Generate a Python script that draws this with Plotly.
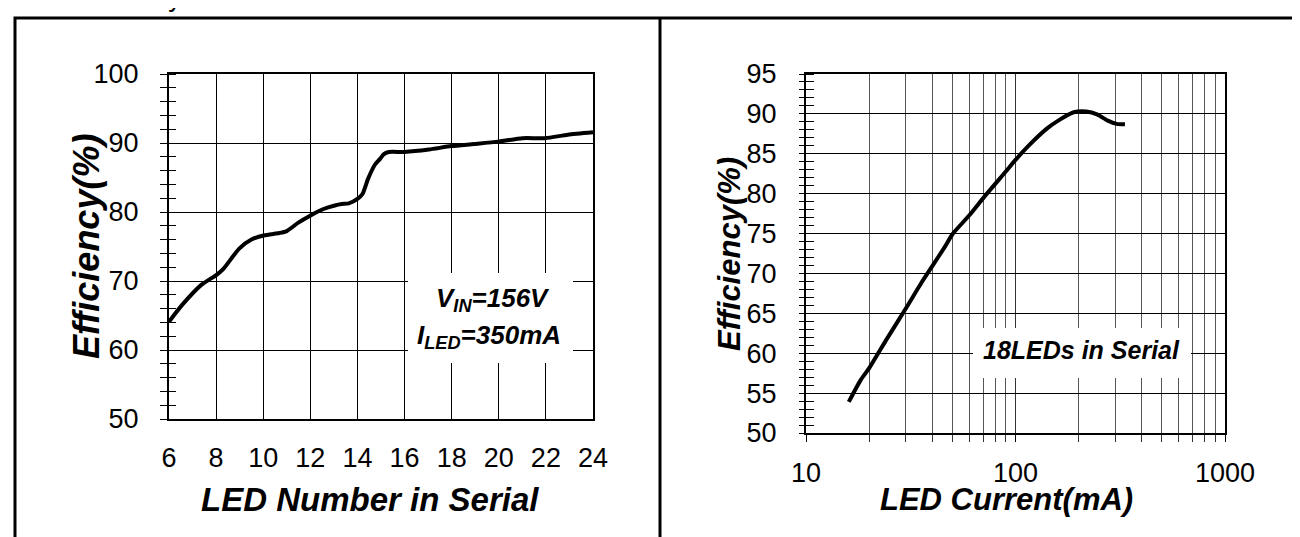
import plotly.graph_objects as go

# ---------------- data ----------------
led_number = [6.0, 6.55, 7.36, 8.02, 8.32, 8.98, 9.5, 10.02, 10.68, 10.98, 11.49, 12.01,
              12.53, 13.04, 13.34, 13.63, 14.0, 14.22, 14.45, 14.74, 14.96, 15.11, 15.33,
              16.0, 17.03, 17.99, 18.95, 19.98, 21.01, 21.97, 22.93, 24.0]
eff_vs_number = [64.1, 66.5, 69.4, 70.9, 71.8, 74.7, 76.0, 76.6, 76.95, 77.2, 78.45, 79.5,
                 80.4, 80.95, 81.15, 81.25, 81.9, 82.65, 84.8, 86.85, 87.7, 88.35, 88.7,
                 88.7, 89.05, 89.55, 89.85, 90.2, 90.7, 90.7, 91.2, 91.55]

led_current = [16.0, 18.2, 20.1, 24.0, 30.1, 35.5, 40.5, 45.9, 50.3, 60.5, 70.9, 89.7,
               99.8, 115.9, 141.1, 162.0, 189.7, 217.8, 245.0, 275.7, 304.0, 333.0]
eff_vs_current = [53.9, 56.6, 58.2, 61.55, 65.7, 68.8, 71.1, 73.3, 75.0, 77.35, 79.6, 82.75,
                  84.2, 86.05, 88.15, 89.25, 90.2, 90.3, 89.95, 89.15, 88.75, 88.7]

left_xticks = [6, 8, 10, 12, 14, 16, 18, 20, 22, 24]
left_yticks = [50, 60, 70, 80, 90, 100]
right_xticks = [10, 100, 1000]
right_yticks = [50, 55, 60, 65, 70, 75, 80, 85, 90, 95]

# ---------------- layout helpers ----------------
W, H = 1300, 537
FONT = "Liberation Sans"


def fx(p):
    return p / W


def fy(p):
    return 1 - p / H


fig = go.Figure()

fig.add_trace(go.Scatter(x=led_number, y=eff_vs_number, mode="lines",
                         line=dict(color="black", width=4, shape="spline", smoothing=0.6),
                         xaxis="x", yaxis="y", showlegend=False, hoverinfo="skip"))
fig.add_trace(go.Scatter(x=led_current, y=eff_vs_current, mode="lines",
                         line=dict(color="black", width=4, shape="spline", smoothing=0.6),
                         xaxis="x2", yaxis="y2", showlegend=False, hoverinfo="skip"))
# dummy traces so overlay axes render
fig.add_trace(go.Scatter(x=[None], y=[None], xaxis="x", yaxis="y3", showlegend=False))
fig.add_trace(go.Scatter(x=[None], y=[None], xaxis="x2", yaxis="y4", showlegend=False))
# cut-off glyph of a heading above the frame (only its tail is visible)
fig.add_trace(go.Scatter(x=[167], y=[-9], mode="text", text=["y"],
                         textfont=dict(family=FONT, size=27, color="black"),
                         textposition="middle center", cliponaxis=True,
                         xaxis="x5", yaxis="y5", showlegend=False, hoverinfo="skip"))

tickfont = dict(family=FONT, size=27, color="black")
hidden = dict(visible=False, showgrid=False, zeroline=False, automargin=False)

fig.update_layout(
    width=W, height=H,
    margin=dict(l=0, r=0, t=0, b=0, autoexpand=False),
    paper_bgcolor="white", plot_bgcolor="white",
    showlegend=False,
    # ---- left chart ----
    xaxis=dict(domain=[fx(161), fx(585)], range=[6, 24], tickvals=left_xticks,
               showgrid=True, gridcolor="black", gridwidth=1,
               showline=True, linecolor="black", linewidth=2, mirror=True,
               ticks="", tickfont=tickfont, ticklabelstandoff=14, zeroline=False,
               anchor="y", automargin=False),
    yaxis=dict(domain=[fy(411), fy(66)], range=[50, 100], tickvals=left_yticks,
               showgrid=True, gridcolor="black", gridwidth=1,
               showline=True, linecolor="black", linewidth=2, mirror=True,
               ticks="outside", ticklen=7, tickwidth=1, tickcolor="black",
               minor=dict(dtick=2, ticks="outside", ticklen=7, tickwidth=1,
                          tickcolor="black", showgrid=False),
               tickfont=tickfont, ticklabelstandoff=16, zeroline=False, anchor="x",
               automargin=False),
    yaxis3=dict(domain=[fy(411), fy(66)], range=[50, 100], overlaying="y", anchor="x",
                showgrid=False, showticklabels=False, zeroline=False, automargin=False,
                tickvals=[], minor=dict(dtick=2, ticks="inside", ticklen=7, tickwidth=1,
                                        tickcolor="black")),
    # ---- right chart ----
    xaxis2=dict(domain=[fx(798), fx(1217)], type="log", range=[1, 3],
                tickvals=right_xticks, ticktext=[str(v) for v in right_xticks],
                showgrid=True, gridcolor="#333333", gridwidth=1,
                showline=True, linecolor="black", linewidth=2, mirror=True,
                ticks="outside", ticklen=7, tickwidth=1, tickcolor="black",
                minor=dict(dtick="D1", ticks="outside", ticklen=7, tickwidth=1,
                           tickcolor="#333333", showgrid=True, gridcolor="#555555",
                           gridwidth=1),
                tickfont=tickfont, ticklabelstandoff=8, zeroline=False, anchor="y2",
                automargin=False),
    yaxis2=dict(domain=[fy(425), fy(66)], range=[50, 95], tickvals=right_yticks,
                showgrid=True, gridcolor="black", gridwidth=1,
                showline=True, linecolor="black", linewidth=2, mirror=True,
                ticks="outside", ticklen=5, tickwidth=1, tickcolor="black",
                minor=dict(dtick=1, ticks="outside", ticklen=5, tickwidth=1,
                           tickcolor="black", showgrid=False),
                tickfont=tickfont, ticklabelstandoff=17, zeroline=False, anchor="x2",
                automargin=False),
    yaxis4=dict(domain=[fy(425), fy(66)], range=[50, 95], overlaying="y2", anchor="x2",
                showgrid=False, showticklabels=False, zeroline=False, automargin=False,
                tickvals=[], minor=dict(dtick=1, ticks="inside", ticklen=8, tickwidth=1,
                                        tickcolor="black")),
    # ---- hidden strip at the very top for the clipped glyph ----
    xaxis5=dict(domain=[0, 1], range=[0, W], anchor="y5", **hidden),
    yaxis5=dict(domain=[fy(10), 1], range=[10, 0], anchor="x5", **hidden),
)

shapes = [
    # outer frame and divider
    dict(type="rect", xref="paper", yref="paper", x0=fx(7), x1=fx(1297), y0=fy(560), y1=fy(10),
         line=dict(color="black", width=3), layer="above"),
    dict(type="line", xref="paper", yref="paper", x0=fx(652), x1=fx(652), y0=fy(560), y1=fy(10),
         line=dict(color="black", width=3), layer="above"),
    # white label boxes hiding grid
    dict(type="rect", xref="paper", yref="paper", x0=fx(400), x1=fx(565), y0=fy(355), y1=fy(265),
         fillcolor="white", line=dict(width=0), layer="above"),
    dict(type="rect", xref="paper", yref="paper", x0=fx(965), x1=fx(1183), y0=fy(370), y1=fy(320),
         fillcolor="white", line=dict(width=0), layer="above"),
]
fig.update_layout(shapes=shapes)

bi = dict(family=FONT, color="black", weight="bold", style="italic")
ann = [
    dict(text="V<sub>IN</sub>=156V", x=fx(485), y=fy(291), font=dict(size=26, **bi)),
    dict(text="I<sub>LED</sub>=350mA", x=fx(481), y=fy(328), font=dict(size=26, **bi)),
    dict(text="18LEDs in Serial", x=fx(1073), y=fy(342), font=dict(size=25, **bi)),
    dict(text="LED Number in Serial", x=fx(362), y=fy(491), font=dict(size=33, **bi)),
    dict(text="LED Current(mA)", x=fx(998), y=fy(491), font=dict(size=31, **bi)),
    dict(text="Efficiency(%)", x=fx(78), y=fy(239), textangle=-90, font=dict(size=36, **bi)),
    dict(text="Efficiency(%)", x=fx(721), y=fy(246), textangle=-90, font=dict(size=31, **bi)),
]
for a in ann:
    a.update(xref="paper", yref="paper", showarrow=False, xanchor="center", yanchor="middle")
fig.update_layout(annotations=ann)

fig.write_html("out.html")
